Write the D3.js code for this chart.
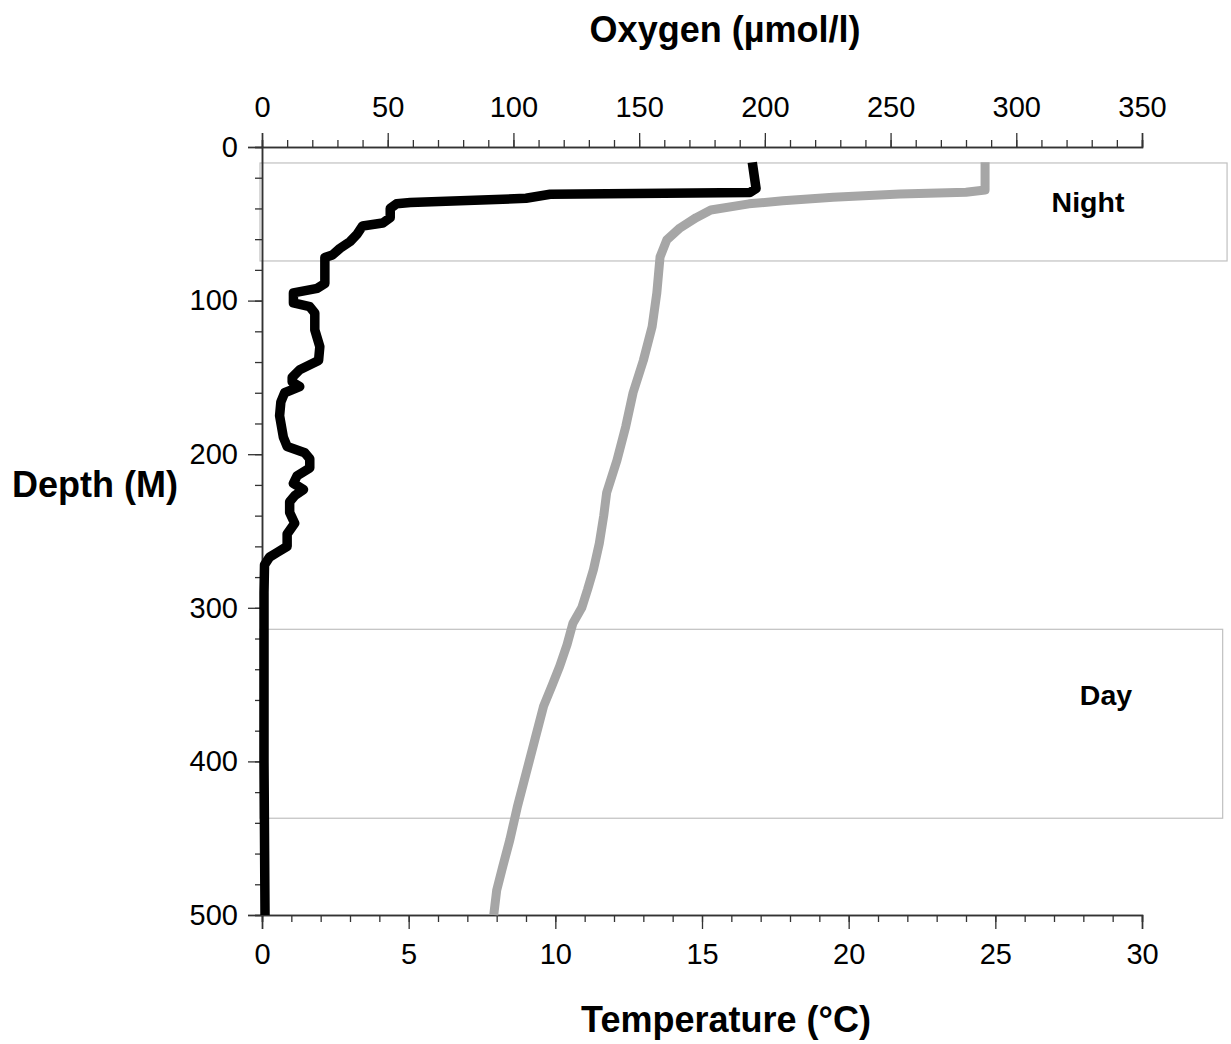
<!DOCTYPE html>
<html>
<head>
<meta charset="utf-8">
<script src="https://cdn.jsdelivr.net/npm/d3@7"></script>
<style>
  html, body { margin: 0; padding: 0; background: #fff; }
  svg { display: block; font-family: Arial, "Liberation Sans", sans-serif; }
</style>
</head>
<body>
<svg id="chart" width="1231" height="1044"></svg>
<script>
// ---- data ----
const oxygenDepth = [10, 27, 29.7, 30.8, 33.4, 36.2, 37, 40, 46, 49.5, 51.4, 57, 61.6, 66, 70.3, 72, 80, 88.8, 92, 95, 101.5, 104, 108, 119, 130, 139, 145, 150, 153, 156, 160, 166, 175, 189, 195, 199, 203, 209, 214, 219, 223, 227, 231, 238, 245, 252, 260, 264, 267, 272, 290, 400, 500];
const oxygenValue = [195, 196.5, 194, 114.6, 105, 59, 53.5, 51, 51, 48, 40, 37.7, 35, 31, 28, 25, 25, 25, 22, 12.5, 12.5, 19, 21, 21, 23, 22.5, 15, 12, 12, 15, 9, 7.5, 7, 8.5, 10, 17, 19, 19, 14, 12.5, 16.5, 13, 11, 11, 13, 10, 10, 6, 3, 1, 0.8, 0.8, 1.2];

const tempDepth = [10, 28, 29.4, 30.6, 32.7, 35, 37, 41, 46, 52.7, 60.5, 71.6, 95, 117, 139, 160, 182, 204, 225, 240, 258, 275, 288, 300, 310, 324, 338, 350, 364, 386, 408, 430, 451, 469, 484, 500];
const tempValue = [24.65, 24.65, 24.0, 21.75, 19.47, 17.76, 16.6, 15.3, 14.8, 14.25, 13.8, 13.57, 13.46, 13.3, 13.0, 12.65, 12.4, 12.1, 11.75, 11.65, 11.5, 11.3, 11.1, 10.9, 10.6, 10.4, 10.15, 9.9, 9.6, 9.3, 9.0, 8.7, 8.45, 8.2, 8.0, 7.9];

const oxygenTicks = [0, 50, 100, 150, 200, 250, 300, 350];
const tempTicks = [0, 5, 10, 15, 20, 25, 30];
const depthTicks = [0, 100, 200, 300, 400, 500];

const boxLabels = ["Night", "Day"];
const boxTop = [10.4, 314];      // depth (m)
const boxBottom = [74.2, 437];   // depth (m)
const boxRight = [32.9, 32.75];  // in temperature units

const titleTop = "Oxygen (µmol/l)";
const titleLeft = "Depth (M)";
const titleBottom = "Temperature (°C)";

// ---- layout ----
const L = 262, R = 1142, T = 147, B = 915;
const svg = d3.select("#chart");

const xT = d3.scaleLinear().domain([0, 30]).range([L, R]);
const xO = d3.scaleLinear().domain([0, 350]).range([L, R]);
const y = d3.scaleLinear().domain([0, 500]).range([T, B]);

const axisColor = "#333";

// boxes
const boxes = svg.append("g");
boxLabels.forEach((lab, i) => {
  boxes.append("rect")
    .attr("x", L - 2).attr("y", y(boxTop[i]))
    .attr("width", xT(boxRight[i]) - (L - 2))
    .attr("height", y(boxBottom[i]) - y(boxTop[i]))
    .attr("fill", "none").attr("stroke", "#c0c0c0").attr("stroke-width", 1.2);
});

// axes
function styleAxis(g) {
  g.select(".domain").attr("stroke", axisColor).attr("stroke-width", 1.5);
  g.selectAll(".tick line").attr("stroke", axisColor).attr("stroke-width", 1.3);
  g.selectAll(".tick text").attr("fill", "#000").style("font-size", "29px")
    .style("font-family", "Arial, 'Liberation Sans', sans-serif");
}

// top oxygen axis (minor)
svg.append("g").attr("transform", `translate(0,${T})`)
  .call(d3.axisTop(xO).tickValues(d3.range(0, 351, 10)).tickSize(7).tickFormat(""))
  .call(styleAxis);
svg.append("g").attr("transform", `translate(0,${T})`)
  .call(d3.axisTop(xO).tickValues(oxygenTicks).tickSize(14).tickPadding(16).tickFormat(d3.format("d")))
  .call(styleAxis);

// bottom temp axis
svg.append("g").attr("transform", `translate(0,${B})`)
  .call(d3.axisBottom(xT).tickValues(d3.range(0, 31, 1)).tickSize(7).tickFormat(""))
  .call(styleAxis);
svg.append("g").attr("transform", `translate(0,${B})`)
  .call(d3.axisBottom(xT).tickValues(tempTicks).tickSize(14).tickPadding(14).tickFormat(d3.format("d")))
  .call(styleAxis);

// left depth axis
svg.append("g").attr("transform", `translate(${L},0)`)
  .call(d3.axisLeft(y).tickValues(d3.range(0, 501, 20)).tickSize(7).tickFormat(""))
  .call(styleAxis);
svg.append("g").attr("transform", `translate(${L},0)`)
  .call(d3.axisLeft(y).tickValues(depthTicks).tickSize(14).tickPadding(10).tickFormat(d3.format("d")))
  .call(styleAxis);

// lines
const tempPts = tempDepth.map((d, i) => [tempValue[i], d]);
const oxyPts = oxygenDepth.map((d, i) => [oxygenValue[i], d]);

svg.append("path")
  .datum(tempPts)
  .attr("d", d3.line().x(d => xT(d[0])).y(d => y(d[1])))
  .attr("fill", "none").attr("stroke", "#a6a6a6").attr("stroke-width", 9)
  .attr("stroke-linejoin", "round");

svg.append("path")
  .datum(oxyPts)
  .attr("d", d3.line().x(d => xO(d[0])).y(d => y(d[1])))
  .attr("fill", "none").attr("stroke", "#000").attr("stroke-width", 9.5)
  .attr("stroke-linejoin", "round");

// box labels
const labelX = [1088, 1106];
const labelY = [212, 705];
boxLabels.forEach((lab, i) => {
  svg.append("text").attr("x", labelX[i]).attr("y", labelY[i])
    .attr("text-anchor", "middle").style("font-weight", "bold").style("font-size", "28.5px")
    .text(lab);
});

// titles
svg.append("text").attr("x", 725).attr("y", 42).attr("text-anchor", "middle")
  .style("font-weight", "bold").style("font-size", "36px").text(titleTop);
svg.append("text").attr("x", 12).attr("y", 497)
  .style("font-weight", "bold").style("font-size", "36px").text(titleLeft);
svg.append("text").attr("x", 726).attr("y", 1032).attr("text-anchor", "middle")
  .style("font-weight", "bold").style("font-size", "36px").text(titleBottom);
</script>
</body>
</html>
